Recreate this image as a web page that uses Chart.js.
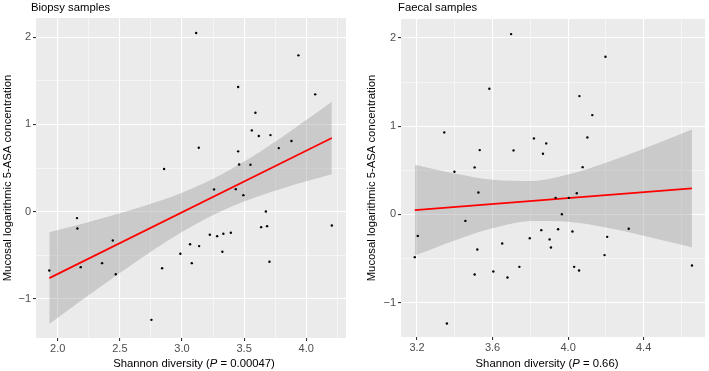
<!DOCTYPE html>
<html>
<head>
<meta charset="utf-8">
<script src="https://cdn.jsdelivr.net/npm/chart.js@4"></script>
<style>
  body { margin: 0; background: #fff; }
  canvas { position: absolute; top: 0; }
  #biopsy { left: 0; }
  #faecal { left: 355px; }
</style>
</head>
<body>
<canvas id="biopsy" width="355" height="371"></canvas>
<canvas id="faecal" width="354" height="371"></canvas>
<script>
// Biopsie: Shannon-Diversität vs. 5-ASA
const bioX = [3.114,3.937,3.452,4.072,3.591,3.562,3.618,3.712,3.135,3.779,3.881,3.452,2.856,3.460,3.551,3.258,3.433,3.494,3.675,3.637,3.685,4.206,2.155,2.158,2.443,1.932,2.185,2.357,2.467,2.840,2.987,3.065,3.079,3.138,3.224,3.283,3.333,3.393,3.325,3.704,2.754];
const bioY = [2.048,1.792,1.429,1.345,1.135,0.932,0.867,0.878,0.734,0.729,0.810,0.692,0.489,0.542,0.539,0.256,0.259,0.190,0.003,-0.177,-0.165,-0.157,-0.073,-0.192,-0.329,-0.673,-0.635,-0.589,-0.716,-0.647,-0.482,-0.372,-0.589,-0.394,-0.264,-0.280,-0.252,-0.241,-0.459,-0.573,-1.239];
const bioFitX = [1.932, 4.206];
const bioFitY = [-0.761, 0.844];
const bioBandX = [1.932,2.2,2.5,2.8,3.0,3.235,3.5,3.8,4.0,4.206];
const bioBandHi = [-0.236,-0.137,-0.018,0.114,0.217,0.366,0.575,0.852,1.050,1.259];
const bioBandLo = [-1.286,-1.007,-0.702,-0.410,-0.231,-0.048,0.117,0.264,0.348,0.429];
const bioXTicks = [2.0, 2.5, 3.0, 3.5, 4.0];
const bioXLabels = ['2.0', '2.5', '3.0', '3.5', '4.0'];
const bioXMinor = [2.25, 2.75, 3.25, 3.75, 4.25];

// Faeces
const faeX = [3.698,4.198,3.583,4.060,4.128,3.344,3.819,3.884,4.102,3.532,3.711,3.867,3.505,4.077,3.398,3.525,3.934,4.004,4.046,3.967,3.456,3.204,3.858,3.947,4.023,4.321,3.797,3.902,4.207,3.651,3.909,3.519,3.188,4.193,3.742,3.604,4.032,4.058,3.505,3.679,4.656,3.358];
const faeY = [2.044,1.787,1.424,1.341,1.126,0.930,0.862,0.805,0.873,0.729,0.726,0.687,0.533,0.536,0.483,0.249,0.188,0.188,0.241,0.003,-0.073,-0.243,-0.178,-0.167,-0.193,-0.163,-0.269,-0.283,-0.254,-0.329,-0.374,-0.397,-0.484,-0.461,-0.594,-0.646,-0.594,-0.635,-0.680,-0.714,-0.578,-1.236];
const faeFitX = [3.188, 4.656];
const faeFitY = [0.049, 0.295];
const faeBandX = [3.188,3.4,3.6,3.81,4.0,4.2,4.4,4.656];
const faeBandHi = [0.563,0.464,0.393,0.380,0.452,0.587,0.745,0.963];
const faeBandLo = [-0.465,-0.294,-0.157,-0.074,-0.082,-0.149,-0.241,-0.373];
const faeXTicks = [3.2, 3.6, 4.0, 4.4];
const faeXLabels = ['3.2', '3.6', '4.0', '4.4'];
const faeXMinor = [3.4, 3.8, 4.2, 4.6];

// y-Achse (beide Panels)
const yTicks = [-1, 0, 1, 2];
const yLabels = ['\u22121', '0', '1', '2'];
const yMinor = [-0.5, 0.5, 1.5];

const FONT = "'Liberation Sans', Arial, Helvetica, sans-serif";

function pts(xs, ys) {
  return xs.map((x, i) => ({ x: x, y: ys[i] }));
}

// Achse mit Haupt- und Nebengitter wie in ggplot
function axis(min, max, major, labels, minor, fitSize, horizontal) {
  const isMajor = v => major.indexOf(v) >= 0;
  return {
    type: 'linear',
    min: min,
    max: max,
    afterBuildTicks: s => {
      s.ticks = major.concat(minor).sort((a, b) => a - b).map(v => ({ value: v }));
    },
    afterFit: s => {
      if (horizontal) s.height = fitSize; else s.width = fitSize;
    },
    border: { display: false },
    grid: {
      color: '#ffffff',
      lineWidth: c => (c.tick && isMajor(c.tick.value)) ? 1.1 : 0.5,
      tickColor: c => (c.tick && isMajor(c.tick.value)) ? '#333333' : 'rgba(0,0,0,0)',
      tickLength: 3,
      drawTicks: true
    },
    ticks: {
      autoSkip: false,
      maxRotation: 0,
      padding: horizontal ? 1 : 2,
      color: '#4D4D4D',
      font: { family: FONT, size: 11 },
      callback: v => {
        const i = major.indexOf(v);
        return i >= 0 ? labels[i] : '';
      }
    }
  };
}

// Hintergrund + Beschriftungen
function panelPlugin(t) {
  return {
    id: 'panel',
    beforeDraw(chart) {
      const { ctx, chartArea: a } = chart;
      ctx.save();
      ctx.fillStyle = '#EBEBEB';
      ctx.fillRect(a.left, a.top, a.right - a.left, a.bottom - a.top);
      ctx.restore();
    },
    afterDraw(chart) {
      const ctx = chart.ctx;
      ctx.save();
      ctx.fillStyle = '#000';
      ctx.textBaseline = 'middle';
      // Panel-Titel
      ctx.font = '11.3px ' + FONT;
      ctx.textAlign = 'left';
      ctx.fillText(t.title, t.titleX, 8);
      // y-Titel
      ctx.save();
      ctx.translate(t.yTitleX, t.yTitleY);
      ctx.rotate(-Math.PI / 2);
      ctx.textAlign = 'center';
      ctx.fillText('Mucosal logarithmic 5-ASA concentration', 0, 0);
      ctx.restore();
      // x-Titel mit kursivem P
      const a = 'Shannon diversity (', b = 'P', c = ' = ' + t.p + ')';
      ctx.font = '11.3px ' + FONT;
      const wa = ctx.measureText(a).width, wc = ctx.measureText(c).width;
      ctx.font = 'italic 11.3px ' + FONT;
      const wb = ctx.measureText(b).width;
      let x = t.xTitleX - (wa + wb + wc) / 2;
      ctx.textAlign = 'left';
      ctx.font = '11.3px ' + FONT;
      ctx.fillText(a, x, 364);
      ctx.font = 'italic 11.3px ' + FONT;
      ctx.fillText(b, x + wa, 364);
      ctx.font = '11.3px ' + FONT;
      ctx.fillText(c, x + wa + wb, 364);
      ctx.restore();
    }
  };
}

function makeChart(id, d) {
  new Chart(document.getElementById(id), {
    type: 'scatter',
    data: {
      datasets: [
        {
          data: pts(d.x, d.y),
          pointRadius: 1.2,
          pointBackgroundColor: '#000',
          pointBorderWidth: 0
        },
        {
          data: pts(d.fitX, d.fitY),
          showLine: true,
          borderColor: '#FF0000',
          borderWidth: 1.7,
          pointRadius: 0
        },
        {
          data: pts(d.bandX, d.bandHi),
          showLine: true,
          borderWidth: 0,
          borderColor: 'rgba(0,0,0,0)',
          pointRadius: 0,
          cubicInterpolationMode: 'monotone',
          fill: '+1',
          backgroundColor: 'rgba(153,153,153,0.4)'
        },
        {
          data: pts(d.bandX, d.bandLo),
          showLine: true,
          borderWidth: 0,
          borderColor: 'rgba(0,0,0,0)',
          pointRadius: 0,
          cubicInterpolationMode: 'monotone',
          fill: false
        }
      ]
    },
    options: {
      responsive: false,
      animation: false,
      layout: { padding: d.padding },
      plugins: { legend: { display: false }, tooltip: { enabled: false } },
      scales: {
        x: axis(d.xMin, d.xMax, d.xTicks, d.xLabels, d.xMinor, d.xFit, true),
        y: axis(d.yMin, d.yMax, yTicks, yLabels, yMinor, d.yFit, false)
      }
    },
    plugins: [panelPlugin(d.text)]
  });
}

makeChart('biopsy', {
  x: bioX, y: bioY, fitX: bioFitX, fitY: bioFitY,
  bandX: bioBandX, bandHi: bioBandHi, bandLo: bioBandLo,
  xMin: 1.825, xMax: 4.32, yMin: -1.447, yMax: 2.22,
  xTicks: bioXTicks, xLabels: bioXLabels, xMinor: bioXMinor,
  padding: { top: 18, left: 0, right: 9, bottom: 0 },
  xFit: 33, yFit: 36,
  text: { title: 'Biopsy samples', titleX: 31, yTitleX: 8, yTitleY: 178, xTitleX: 194, p: '0.00047' }
});

makeChart('faecal', {
  x: faeX, y: faeY, fitX: faeFitX, fitY: faeFitY,
  bandX: faeBandX, bandHi: faeBandHi, bandLo: faeBandLo,
  xMin: 3.115, xMax: 4.725, yMin: -1.389, yMax: 2.215,
  xTicks: faeXTicks, xLabels: faeXLabels, xMinor: faeXMinor,
  padding: { top: 19, left: 0, right: 1, bottom: 0 },
  xFit: 34, yFit: 46,
  text: { title: 'Faecal samples', titleX: 43, yTitleX: 17, yTitleY: 178, xTitleX: 192, p: '0.66' }
});
</script>
</body>
</html>
